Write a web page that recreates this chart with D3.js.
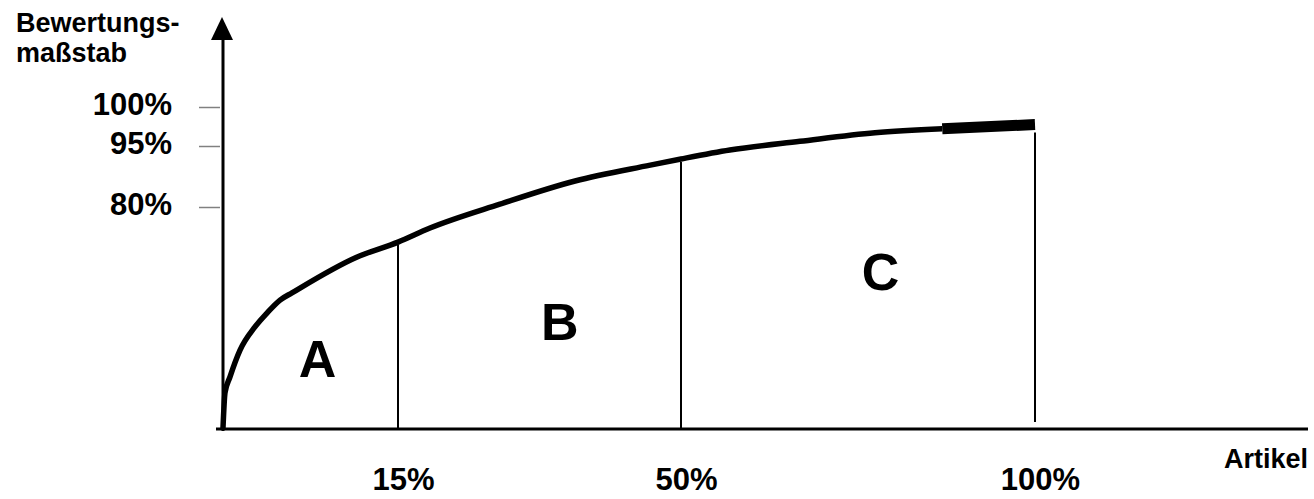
<!DOCTYPE html>
<html>
<head>
<meta charset="utf-8">
<script src="https://cdn.jsdelivr.net/npm/d3@7"></script>
<style>
  body { margin: 0; background: #fff; }
  svg { display: block; font-family: Arial, 'Liberation Sans', sans-serif; }
</style>
</head>
<body>
<div id="viz"></div>
<script>
// ABC-Analyse: Artikel (x) gegen Bewertungsmaßstab (y), beides in %
const curveArtikel = [0, 0.17, 0.6, 1.46, 2.74, 3.77, 4.89, 5.91, 11.5, 15, 18.96, 27.6, 36.9, 46.2, 50, 56.9, 66.8, 77.4, 86.9];
const curveWert    = [0, 12.7, 18.5, 28.2, 36.6, 41.6, 46.3, 48.9, 61.9, 67.3, 72.4, 80.7, 86.4, 90.3, 91.8, 94.0, 95.6, 96.7, 97.2];
// last stretch of the curve is drawn heavier
const heavyArtikel = [86.9, 100];
const heavyWert    = [97.2, 97.75];

const yTicks = [80, 95, 100];
const xTicks = [15, 50, 100];
const yTickLabels = ['80%', '95%', '100%'];
const xTickLabels = ['15%', '50%', '100%'];

const classes = ['A', 'B', 'C'];
const classArtikel = [8.1, 35.0, 78.2];
const classWert = [18.5, 32, 50];

const width = 1314, height = 499;

const svg = d3.select('#viz').append('svg')
  .attr('width', width)
  .attr('height', height);

// the sketch is not to scale, so both scales are piecewise
const x = d3.scaleLinear()
  .domain([0, 15, 50, 100])
  .range([223, 398, 681, 1035]);

const y = d3.scaleLinear()
  .domain([0, 80, 95, 100])
  .range([428, 207, 146, 107]);

// y ticks (grey dashes, no domain line)
const yAxis = svg.append('g')
  .attr('transform', `translate(${x(0) - 3}, 0)`)
  .call(d3.axisLeft(y)
    .tickValues(yTicks)
    .tickSize(21)
    .tickPadding(27)
    .tickFormat((d, i) => yTickLabels[i]));
yAxis.select('.domain').remove();
yAxis.selectAll('.tick line')
  .attr('stroke', '#808080')
  .attr('stroke-width', 1.5);
yAxis.selectAll('.tick text')
  .attr('fill', '#000')
  .style('font-size', '31px')
  .style('font-weight', 'bold')
  .style('font-family', "Arial, 'Liberation Sans', sans-serif")
  .attr('dy', '0.25em');

// x tick labels
const xAxis = svg.append('g')
  .attr('transform', `translate(0, ${y(0)})`)
  .call(d3.axisBottom(x)
    .tickValues(xTicks)
    .tickSize(0)
    .tickPadding(40)
    .tickFormat((d, i) => xTickLabels[i]));
xAxis.select('.domain').remove();
xAxis.selectAll('.tick text')
  .attr('fill', '#000')
  .attr('dx', 5)
  .style('font-size', '31px')
  .style('font-weight', 'bold')
  .style('font-family', "Arial, 'Liberation Sans', sans-serif");

// main axes
svg.append('line')
  .attr('x1', x(0) - 7).attr('x2', 1308)
  .attr('y1', y(0) + 1).attr('y2', y(0) + 1)
  .attr('stroke', '#000').attr('stroke-width', 3);

svg.append('line')
  .attr('x1', x(0)).attr('x2', x(0))
  .attr('y1', y(0) + 3).attr('y2', 38)
  .attr('stroke', '#000').attr('stroke-width', 3);

svg.append('path')
  .attr('d', `M${x(0) - 1},17 L${x(0) - 12},40 L${x(0) + 10},40 Z`)
  .attr('fill', '#000');

// axis titles
const title = svg.append('text')
  .attr('x', 16)
  .attr('y', 32)
  .style('font-size', '27px')
  .style('font-weight', 'bold');
title.append('tspan').attr('x', 16).text('Bewertungs-');
title.append('tspan').attr('x', 16).attr('dy', 30).text('maßstab');

svg.append('text')
  .attr('x', 1308)
  .attr('y', 468)
  .attr('text-anchor', 'end')
  .style('font-size', '27px')
  .style('font-weight', 'bold')
  .text('Artikel');

// class boundaries
const curveAt = d3.scaleLinear().domain(curveArtikel.concat([100])).range(curveWert.concat([97.75]));
svg.selectAll('.divider')
  .data(xTicks)
  .enter().append('line')
  .attr('class', 'divider')
  .attr('x1', d => x(d)).attr('x2', d => x(d))
  .attr('y1', d => y(curveAt(d)) + (d === 100 ? 8 : 3))
  .attr('y2', d => d === 100 ? y(0) - 6 : y(0))
  .attr('stroke', '#000')
  .attr('stroke-width', 2);

// Lorenz curve
const line = d3.line()
  .x(d => x(d[0]))
  .y(d => y(d[1]))
  .curve(d3.curveMonotoneX);

svg.append('path')
  .datum(d3.zip(curveArtikel, curveWert))
  .attr('d', line)
  .attr('fill', 'none')
  .attr('stroke', '#000')
  .attr('stroke-width', 5.5)
  .attr('stroke-linejoin', 'round');

svg.append('path')
  .datum(d3.zip(heavyArtikel, heavyWert))
  .attr('d', d3.line().x(d => x(d[0])).y(d => y(d[1])))
  .attr('fill', 'none')
  .attr('stroke', '#000')
  .attr('stroke-width', 11);

// class letters
svg.selectAll('.cls')
  .data(classes)
  .enter().append('text')
  .attr('class', 'cls')
  .attr('x', (d, i) => x(classArtikel[i]))
  .attr('y', (d, i) => y(classWert[i]))
  .attr('text-anchor', 'middle')
  .style('font-size', '52px')
  .style('font-weight', 'bold')
  .text(d => d);
</script>
</body>
</html>
